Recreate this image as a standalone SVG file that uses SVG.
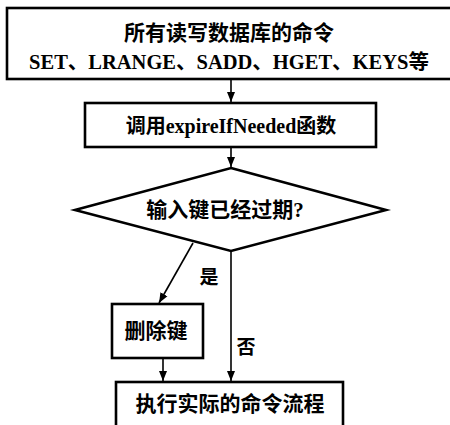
<svg xmlns="http://www.w3.org/2000/svg" width="450" height="425" viewBox="0 0 450 425">
<defs>
<style>
.box{fill:#fff;stroke:#000;stroke-width:2.6}
.t{font-family:"Liberation Serif","Noto Sans CJK SC",serif;font-weight:bold;font-size:20px;text-anchor:middle;dominant-baseline:central;fill:#000}
.cj{font-size:21px}
.lbl{font-family:"Liberation Serif","Noto Sans CJK SC",serif;font-weight:bold;font-size:19px;text-anchor:middle;dominant-baseline:central;fill:#000}
.c{fill:none;stroke:#000;stroke-width:1.6}
</style>
<marker id="ah" markerUnits="userSpaceOnUse" markerWidth="10" markerHeight="10" viewBox="0 0 10 10" refX="10" refY="5" orient="auto">
<path d="M0,1 L10,5 L0,9 Z" fill="#000"/>
</marker>
</defs>
<rect width="450" height="425" fill="#fff"/>
<g id="node-commands">
<rect class="box" x="7" y="8" width="450" height="71"/>
<text class="t cj" x="229" y="33">所有读写数据库的命令</text>
<text class="t" x="229" y="62" style="font-size:20.5px">SET、LRANGE、SADD、HGET、KEYS等</text>
</g>
<g id="node-expire">
<rect class="box" x="85" y="103" width="291" height="44"/>
<text class="t" x="231" y="126">调用expireIfNeeded函数</text>
</g>
<g id="node-decision">
<polygon class="box" points="231,168 386,210 231,251 75,210"/>
<text class="t cj" x="225" y="210">输入键已经过期?</text>
</g>
<g id="node-delete">
<rect class="box" x="112" y="304" width="91" height="54"/>
<text class="t cj" x="156" y="331">删除键</text>
</g>
<g id="node-execute">
<rect class="box" x="116" y="382" width="227" height="60"/>
<text class="t cj" x="230" y="404">执行实际的命令流程</text>
</g>
<g id="connectors">
<line class="c" x1="231" y1="80" x2="231" y2="102" marker-end="url(#ah)"/>
<line class="c" x1="231" y1="148" x2="231" y2="167" marker-end="url(#ah)"/>
<line class="c" x1="193" y1="243" x2="159" y2="303" marker-end="url(#ah)"/>
<line class="c" x1="231" y1="251" x2="231" y2="381" marker-end="url(#ah)"/>
<line class="c" x1="163" y1="359" x2="163" y2="381" marker-end="url(#ah)"/>
<text class="lbl" x="209" y="277">是</text>
<text class="lbl" x="246" y="347">否</text>
</g>
</svg>
